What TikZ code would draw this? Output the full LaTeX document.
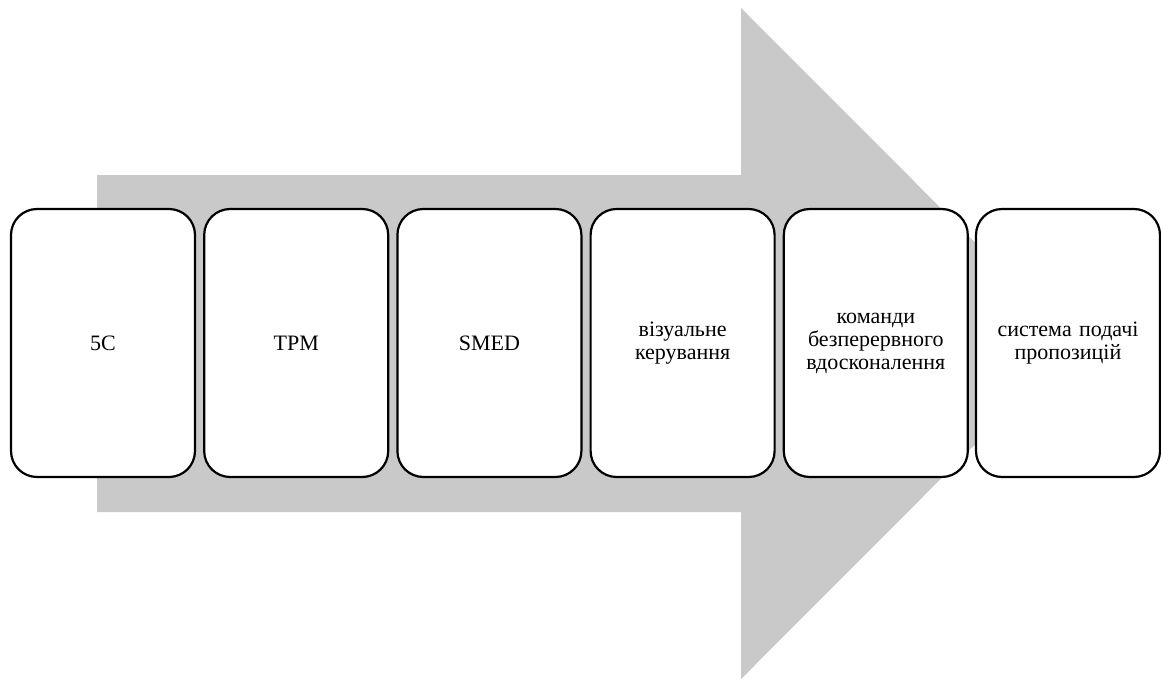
\documentclass[tikz,border=0pt]{standalone}
\usepackage{fontspec}
\setmainfont{Liberation Serif}
\definecolor{arrowgray}{HTML}{C9C9C9}
\begin{document}
\begin{tikzpicture}[x=1pt,y=-1pt,
  stagebox/.style={draw=black,line width=2.2pt,fill=white,rounded corners=26pt,
    minimum width=184pt,minimum height=268pt,inner sep=0pt,
    align=center,text width=176pt,font=\fontsize{22}{23}\selectfont}]
\useasboundingbox (0,0) rectangle (1161,680);
\fill[arrowgray] (97,175) -- (741,175) -- (741,8) -- (1076,343.5) -- (741,679) -- (741,512) -- (97,512) -- cycle;
\node[stagebox] (b1) at (103,343) {5C};
\node[stagebox] (b2) at (296.2,343) {TPM};
\node[stagebox] (b3) at (489.4,343) {SMED};
\node[stagebox] (b4) at (682.6,343) {візуальне\\керування};
\node[stagebox] (b5) at (875.8,343) {команди\\безперервного\\вдосконалення};
\node[stagebox] (b6) at (1068,343) {система подачі\\пропозицій};
\end{tikzpicture}
\end{document}
